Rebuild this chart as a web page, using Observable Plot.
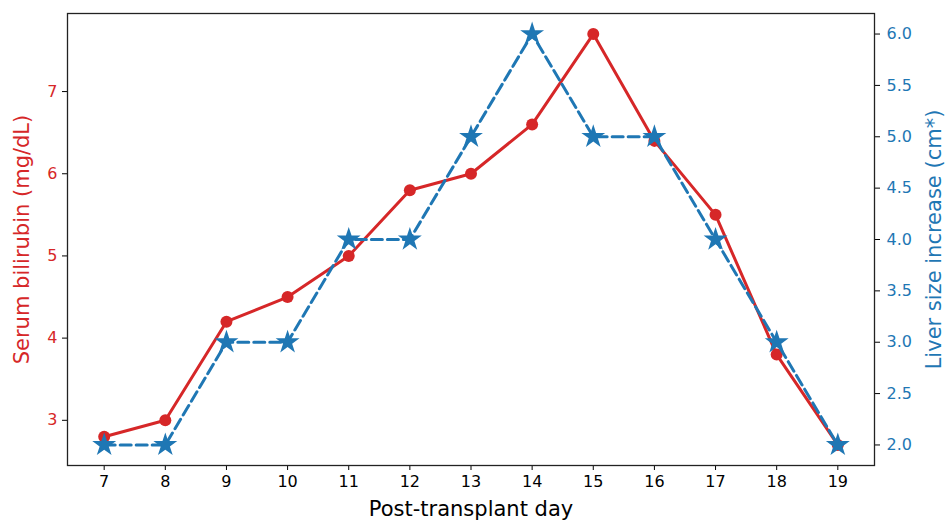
<!DOCTYPE html>
<html>
<head>
<meta charset="utf-8">
<script src="https://cdn.jsdelivr.net/npm/d3@7"></script>
<script src="https://cdn.jsdelivr.net/npm/@observablehq/plot@0.6"></script>
<style>
  html, body { margin: 0; padding: 0; background: #fff; }
  #chart { width: 947px; height: 527px; }
</style>
</head>
<body>
<div id="chart"></div>
<script>
const days = [7, 8, 9, 10, 11, 12, 13, 14, 15, 16, 17, 18, 19];
const bilirubin = [2.8, 3.0, 4.2, 4.5, 5.0, 5.8, 6.0, 6.6, 7.7, 6.4, 5.5, 3.8, 2.7];
const liverSize = [2, 2, 3, 3, 4, 4, 5, 6, 5, 5, 4, 3, 2];
const leftTicks = [3, 4, 5, 6, 7];
const rightTicks = [2.0, 2.5, 3.0, 3.5, 4.0, 4.5, 5.0, 5.5, 6.0];
const xLabel = "Post-transplant day";
const leftLabel = "Serum bilirubin (mg/dL)";
const rightLabel = "Liver size increase (cm*)";

const RED = "#d62728";
const BLUE = "#1f77b4";

// left domain and right domain (matplotlib 5% margins)
const leftDomain = [2.45, 7.95];
const rightDomain = [1.8, 6.2];
const toLeft = v => leftDomain[0] + (v - rightDomain[0]) / (rightDomain[1] - rightDomain[0]) * (leftDomain[1] - leftDomain[0]);
const toRight = v => rightDomain[0] + (v - leftDomain[0]) / (leftDomain[1] - leftDomain[0]) * (rightDomain[1] - rightDomain[0]);

const red = days.map((d, i) => ({day: d, v: bilirubin[i]}));
const blue = days.map((d, i) => ({day: d, v: toLeft(liverSize[i])}));
const rightTickPos = rightTicks.map(toLeft);

const chart = Plot.plot({
  width: 947,
  height: 527,
  marginLeft: 67,
  marginRight: 73,
  marginTop: 13,
  marginBottom: 62,
  style: {fontFamily: "DejaVu Sans", fontSize: "16px", background: "#fff"},
  x: {domain: [6.4, 19.6], axis: null},
  y: {domain: leftDomain, axis: null},
  marks: [
    Plot.axisX(days, {anchor: "bottom", tickSize: 5, tickPadding: 5, fontSize: 16, stroke: "#000", fill: "#000", tickFormat: d => String(d), label: null}),
    Plot.axisY(leftTicks, {anchor: "left", tickSize: 5, tickPadding: 5, fontSize: 16, stroke: "#000", fill: RED, tickFormat: d => String(d), label: null}),
    Plot.axisY(rightTickPos, {anchor: "right", tickSize: 5, tickPadding: 7, fontSize: 16, stroke: "#000", fill: BLUE, tickFormat: d => toRight(d).toFixed(1), label: null}),
    Plot.line(red, {x: "day", y: "v", stroke: RED, strokeWidth: 3}),
    Plot.dot(red, {x: "day", y: "v", fill: RED, r: 6, stroke: "none"}),
    Plot.line(blue, {x: "day", y: "v", stroke: BLUE, strokeWidth: 3, strokeDasharray: "11,5"}),
    Plot.dot(blue, {x: "day", y: "v", fill: BLUE, symbol: "star", r: 7.5, stroke: "none"}),
    Plot.frame({stroke: "#222", strokeWidth: 1.3}),
    Plot.text([xLabel], {frameAnchor: "bottom", dy: 50, fontSize: 21, fill: "#000", textAnchor: "middle"}),
    Plot.text([leftLabel], {frameAnchor: "left", dx: -45, rotate: -90, fontSize: 21, fill: RED, textAnchor: "middle"}),
    Plot.text([rightLabel], {frameAnchor: "right", dx: 60, rotate: -90, fontSize: 21, fill: BLUE, textAnchor: "middle"})
  ]
});
document.getElementById("chart").appendChild(chart);
</script>
</body>
</html>
